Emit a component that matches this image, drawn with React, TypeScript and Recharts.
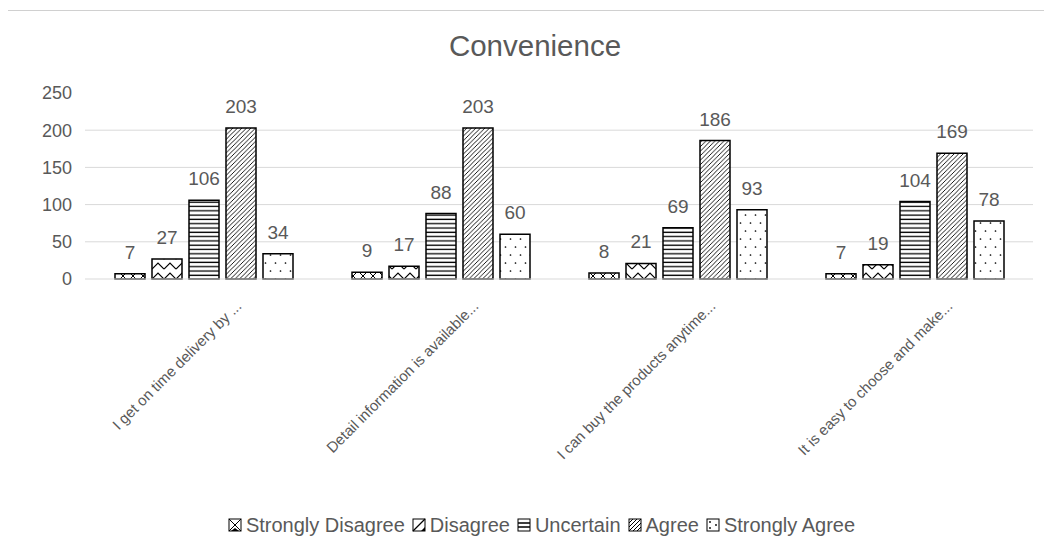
import React from 'react';
import { BarChart, Bar, XAxis, YAxis, CartesianGrid, LabelList, Legend } from 'recharts';

const categories = [
  'I get on time delivery by ...',
  'Detail information is available...',
  'I can buy the products anytime...',
  'It is easy to choose and make...',
];
const stronglyDisagree = [7, 9, 8, 7];
const disagree = [27, 17, 21, 19];
const uncertain = [106, 88, 69, 104];
const agree = [203, 203, 186, 169];
const stronglyAgree = [34, 60, 93, 78];
const yTicks = [0, 50, 100, 150, 200, 250];
const gridValues = [50, 100, 150, 200];
const seriesNames = ['Strongly Disagree', 'Disagree', 'Uncertain', 'Agree', 'Strongly Agree'];
const seriesKeys = ['sd', 'd', 'u', 'a', 'sa'];
const title = 'Convenience';

const data = categories.map((name, i) => ({
  name,
  sd: stronglyDisagree[i],
  d: disagree[i],
  u: uncertain[i],
  a: agree[i],
  sa: stronglyAgree[i],
}));

const FONT = '"Liberation Sans", Arial, sans-serif';
const TEXT = '#595959';
const GRID = '#d9d9d9';

const XTick = (props: any) => {
  const { x, y, payload } = props;
  const ax = x + 39;
  const ay = y + 28;
  return (
    <text
      x={ax}
      y={ay}
      transform={`rotate(-45, ${ax}, ${ay})`}
      textAnchor="end"
      fill={TEXT}
      fontSize={15}
      fontFamily={FONT}
    >
      {payload.value}
    </text>
  );
};

const Icon = ({ k }: { k: string }) => {
  const s = 12;
  return (
    <svg width={s + 2} height={s + 2} style={{ display: 'block' }}>
      <g transform="translate(1,1)">
        <rect x={0} y={0} width={s} height={s} fill="#fff" stroke="#000" strokeWidth={1} />
        {k === 'sd' && <path d={`M0,0 L${s},${s} M${s},0 L0,${s}`} stroke="#000" strokeWidth={1} />}
        {k === 'sd' && <path d={`M2,${s} L${s / 2},${s - 3} L${s - 2},${s} Z`} fill="#000" />}
        {k === 'd' && <path d={`M0,${s} L${s},0`} stroke="#000" strokeWidth={1.3} />}
        {k === 'd' && <path d={`M${s},${s - 4} L${s - 4},${s} L${s},${s} Z`} fill="#000" />}
        {k === 'u' && <path d={`M0,4 L${s},4 M0,8 L${s},8`} stroke="#000" strokeWidth={1.3} />}
        {k === 'a' && (
          <path
            d={`M0,4 L4,0 M0,8 L8,0 M0,12 L12,0 M4,12 L12,4 M8,12 L12,8`}
            stroke="#000"
            strokeWidth={1}
          />
        )}
        {k === 'sa' && (
          <g fill="#000">
            <circle cx={3} cy={3} r={0.9} />
            <circle cx={9} cy={6} r={0.9} />
            <circle cx={3} cy={9} r={0.9} />
          </g>
        )}
      </g>
    </svg>
  );
};

const LegendContent = () => (
  <div
    style={{
      display: 'flex',
      justifyContent: 'center',
      alignItems: 'center',
      height: 30,
      paddingLeft: 42,
      fontFamily: FONT,
      fontSize: 20,
      color: TEXT,
      whiteSpace: 'nowrap',
    }}
  >
    {seriesKeys.map((k, i) => (
      <div key={k} style={{ display: 'flex', alignItems: 'center', marginRight: i < 4 ? 7 : 0 }}>
        <Icon k={k} />
        <span style={{ marginLeft: 4 }}>{seriesNames[i]}</span>
      </div>
    ))}
  </div>
);

export default function App() {
  return (
    <div style={{ width: 1044, height: 544, overflow: 'hidden' }}>
      <div
        style={{
          position: 'relative',
          marginLeft: -1,
          marginTop: 2,
          width: 1100,
          height: 600,
          border: '1px solid #d0d0d0',
          boxSizing: 'border-box',
          background: '#fff',
          fontFamily: FONT,
        }}
      >
        <div
          style={{
            position: 'absolute',
            left: 527,
            top: 20,
            transform: 'translateX(-50%)',
            fontSize: 29.5,
            lineHeight: '29px',
            color: TEXT,
            fontFamily: FONT,
            whiteSpace: 'nowrap',
          }}
        >
          {title}
        </div>
        <BarChart
          width={1040}
          height={541}
          data={data}
          margin={{ top: 82, right: 15, bottom: 12, left: 0 }}
          barSize={30}
          barGap={7}
          style={{ fontFamily: FONT }}
        >
          <defs>
            <pattern id="pSD" patternUnits="userSpaceOnUse" width={10} height={10}>
              <rect width={10} height={10} fill="#fff" />
              <path d="M0,0 L10,10 M10,0 L0,10" stroke="#000" strokeWidth={1} />
            </pattern>
            <pattern id="pD" patternUnits="userSpaceOnUse" width={12} height={10}>
              <rect width={12} height={10} fill="#fff" />
              <path d="M0,8 L6,2 L12,8" stroke="#000" strokeWidth={1.2} fill="none" />
            </pattern>
            <pattern id="pU" patternUnits="userSpaceOnUse" width={8} height={4.3}>
              <rect width={8} height={4.3} fill="#fff" />
              <path d="M0,2 L8,2" stroke="#000" strokeWidth={1.3} />
            </pattern>
            <pattern id="pA" patternUnits="userSpaceOnUse" width={4.5} height={4.5}>
              <rect width={4.5} height={4.5} fill="#fff" />
              <path d="M0,4.5 L4.5,0 M-1,1 L1,-1 M3.5,5.5 L5.5,3.5" stroke="#000" strokeWidth={0.9} />
            </pattern>
            <pattern id="pSA" patternUnits="userSpaceOnUse" width={10} height={16}>
              <rect width={10} height={16} fill="#fff" />
              <circle cx={2.5} cy={4} r={0.85} fill="#000" />
              <circle cx={7.5} cy={12} r={0.85} fill="#000" />
            </pattern>
          </defs>
          <CartesianGrid vertical={false} stroke={GRID} horizontalValues={gridValues} />
          <XAxis
            dataKey="name"
            height={231}
            interval={0}
            tick={<XTick />}
            tickLine={false}
            tickSize={0}
            tickMargin={0}
            axisLine={{ stroke: GRID }}
          />
          <YAxis
            width={77}
            domain={[0, 250]}
            ticks={yTicks}
            interval={0}
            axisLine={false}
            tickLine={false}
            tickSize={6}
            tickMargin={7}
            tick={{ fill: TEXT, fontSize: 18, fontFamily: FONT }}
          />
          <Legend verticalAlign="bottom" height={30} content={() => <LegendContent />} />
          {seriesKeys.map((k, i) => (
            <Bar
              key={k}
              dataKey={k}
              name={seriesNames[i]}
              fill={`url(#p${k.toUpperCase()})`}
              stroke="#000"
              strokeWidth={1.5}
              isAnimationActive={false}
            >
              <LabelList
                dataKey={k}
                position="top"
                offset={15}
                fill={TEXT}
                fontSize={19}
                fontFamily={FONT}
              />
            </Bar>
          ))}
        </BarChart>
      </div>
    </div>
  );
}
